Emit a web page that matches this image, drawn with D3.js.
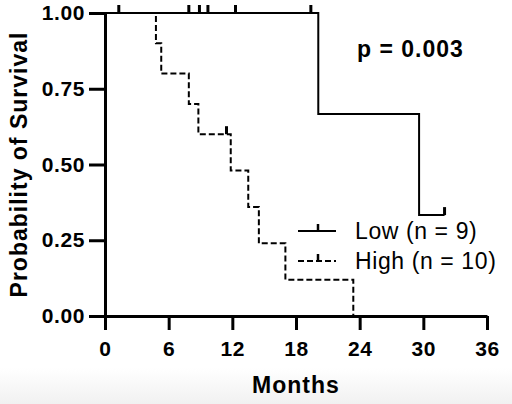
<!DOCTYPE html>
<html>
<head>
<meta charset="utf-8">
<script src="https://cdn.jsdelivr.net/npm/d3@7"></script>
<style>
  body { margin: 0; background: #fff; }
  text { font-family: "Liberation Sans", Arial, sans-serif; fill: #000; }
</style>
</head>
<body>
<div id="chart"></div>
<script>
// survival curves, step points (months, probability)
var lowTime = [0, 20.1, 29.6, 32];
var lowSurv = [1, 0.667, 0.333, 0.333];
var lowCensor = [1.3, 7.9, 8.9, 9.7, 12.3, 19.4, 32];

var highTime = [0, 4.8, 5.3, 7.9, 8.8, 11.85, 13.5, 14.5, 17.0, 23.4];
var highSurv = [1, 0.9, 0.8, 0.7, 0.6, 0.48, 0.36, 0.24, 0.12, 0];
var highCensor = [11.45];

var xTicks = [0, 6, 12, 18, 24, 30, 36];
var yTicks = [0, 0.25, 0.5, 0.75, 1];
var legendLabels = ["Low (n = 9)", "High (n = 10)"];
var pText = "p = 0.003";

var areaWidth = 512, areaHeight = 404;
var x0 = 105, x1 = 487, yTop = 13, yBot = 316;

var svg = d3.select("#chart").append("svg")
  .attr("width", areaWidth).attr("height", areaHeight);

// light grey fade at the bottom
var grad = svg.append("defs").append("linearGradient")
  .attr("id", "fade").attr("x1", 0).attr("y1", 0).attr("x2", 0).attr("y2", 1);
grad.append("stop").attr("offset", "0%").attr("stop-color", "#ffffff");
grad.append("stop").attr("offset", "100%").attr("stop-color", "#f1f1f1");
svg.append("rect").attr("x", 0).attr("y", 368).attr("width", areaWidth)
  .attr("height", areaHeight - 368).style("fill", "url(#fade)");

var xScale = d3.scaleLinear().domain([0, 36]).range([x0, x1]);
var yScale = d3.scaleLinear().domain([0, 1]).range([yBot, yTop]);

// axes
var xAxis = svg.append("g").attr("transform", "translate(0," + yBot + ")")
  .call(d3.axisBottom(xScale).tickValues(xTicks).tickSize(14).tickSizeOuter(0).tickPadding(11));
var yAxis = svg.append("g").attr("transform", "translate(" + x0 + ",0)")
  .call(d3.axisLeft(yScale).tickValues(yTicks).tickSize(16).tickSizeOuter(0).tickPadding(4)
    .tickFormat(d3.format(".2f")));

[xAxis, yAxis].forEach(function (a) {
  a.selectAll("path, line").style("stroke", "#000").style("stroke-width", 3);
  a.selectAll("text").style("font-size", "21px").style("font-weight", "bold")
    .style("letter-spacing", "0.6px")
    .style("font-family", "'Liberation Sans', Arial, sans-serif");
});

// step-after lookup for censor mark heights
function survAt(times, surv, t) {
  var i = d3.bisectRight(times, t) - 1;
  return surv[Math.max(0, i)];
}

var line = d3.line()
  .x(function (d) { return xScale(d[0]); })
  .y(function (d) { return yScale(d[1]); })
  .curve(d3.curveStepAfter);

function drawCurve(times, surv, censor, dash) {
  var pts = times.map(function (t, i) { return [t, surv[i]]; });
  svg.append("path").datum(pts).attr("d", line)
    .style("fill", "none").style("stroke", "#000").style("stroke-width", 2)
    .style("stroke-dasharray", dash);
  svg.selectAll(null).data(censor).enter().append("line")
    .attr("x1", function (d) { return xScale(d); })
    .attr("x2", function (d) { return xScale(d); })
    .attr("y1", function (d) { return yScale(survAt(times, surv, d)); })
    .attr("y2", function (d) { return yScale(survAt(times, surv, d)) - 8; })
    .style("stroke", "#000").style("stroke-width", 3);
}

drawCurve(lowTime, lowSurv, lowCensor, null);
drawCurve(highTime, highSurv, highCensor, "6,3");

// legend
var legend = svg.append("g");
legendLabels.forEach(function (lab, i) {
  var y = 231 + i * 30;
  legend.append("line").attr("x1", 298).attr("x2", 336).attr("y1", y).attr("y2", y)
    .style("stroke", "#000").style("stroke-width", 2)
    .style("stroke-dasharray", i == 1 ? "6,3" : null);
  legend.append("line").attr("x1", 318).attr("x2", 318).attr("y1", y).attr("y2", y - 7)
    .style("stroke", "#000").style("stroke-width", 2.5);
  legend.append("text").attr("x", 355).attr("y", y + 8).text(lab)
    .style("font-size", "23px").style("letter-spacing", "0.6px");
});

svg.append("text").attr("x", 357).attr("y", 57).text(pText)
  .style("font-size", "23px").style("font-weight", "bold").style("letter-spacing", "1px");

// axis titles
svg.append("text").attr("x", (x0 + x1) / 2).attr("y", 393).attr("text-anchor", "middle")
  .text("Months").style("font-size", "23px").style("font-weight", "bold")
  .style("letter-spacing", "1px");
svg.append("text").attr("transform", "translate(27," + (yTop + yBot) / 2 + ") rotate(-90)")
  .attr("text-anchor", "middle").text("Probability of Survival")
  .style("font-size", "23px").style("font-weight", "bold").style("letter-spacing", "1px");
</script>
</body>
</html>
